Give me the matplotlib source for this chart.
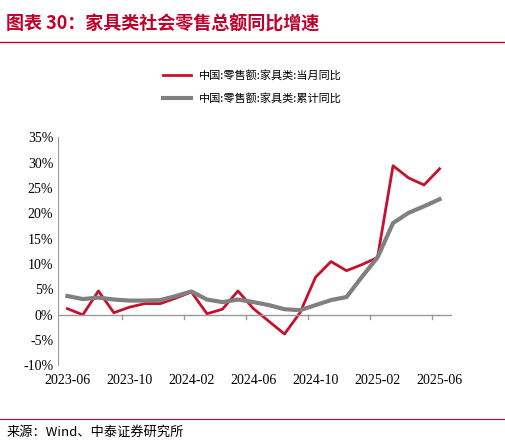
import matplotlib
matplotlib.use("Agg")
import matplotlib.pyplot as plt
from matplotlib.ticker import FuncFormatter

plt.rcParams['font.family'] = ['Noto Sans CJK SC', 'DejaVu Sans']

months = ["2023-06","2023-07","2023-08","2023-09","2023-10","2023-11","2023-12",
          "2024-01","2024-02","2024-03","2024-04","2024-05","2024-06","2024-07",
          "2024-08","2024-09","2024-10","2024-11","2024-12","2025-01","2025-02",
          "2025-03","2025-04","2025-05","2025-06"]
monthly = [1.2,0.0,4.7,0.4,1.5,2.2,2.2,3.3,4.5,0.2,1.1,4.7,1.2,-1.3,-3.8,0.4,
           7.4,10.5,8.7,9.9,11.3,29.4,27.0,25.6,28.8]
cumulative = [3.7,3.1,3.4,3.0,2.8,2.8,2.9,3.7,4.6,3.0,2.5,3.0,2.5,1.9,1.1,0.9,
              1.9,2.9,3.5,7.5,11.3,18.1,20.1,21.4,22.8]
labels = ["中国:零售额:家具类:当月同比", "中国:零售额:家具类:累计同比"]

fig = plt.figure(figsize=(5.05, 4.43), dpi=100)
fig.text(0.012, 0.945, "图表 30：家具类社会零售总额同比增速", color="#c0002a",
         fontsize=13, style="italic", fontweight="bold", va="center")
fig.add_artist(plt.Line2D([0.0, 1.0], [0.905, 0.905], color="#c0002a", lw=1))
fig.add_artist(plt.Line2D([0.0, 1.0], [0.055, 0.055], color="#c0002a", lw=0.8))
fig.text(0.012, 0.025, "来源：Wind、中泰证券研究所", fontsize=9.5, va="center")

ax = fig.add_axes([0.115, 0.175, 0.78, 0.515])
x = list(range(len(months)))
l1, = ax.plot(x, monthly, color="#c8102e", lw=2, label=labels[0])
l2, = ax.plot(x, cumulative, color="#808080", lw=3, label=labels[1])
ax.set_ylim(-10, 35)
ax.set_yticks(range(-10, 36, 5))
ax.yaxis.set_major_formatter(FuncFormatter(lambda v, p: f"{int(v)}%"))
ax.set_xlim(-0.6, 24.8)
ax.set_xticks(x[::4])
ax.set_xticklabels(months[::4])
for s in ["top", "right", "bottom"]:
    ax.spines[s].set_visible(False)
ax.spines["left"].set_color("#999999")
ax.axhline(0, color="#999999", lw=1)
ax.tick_params(axis="x", length=0, pad=6)
ax.tick_params(axis="y", length=0)
for lab in ax.get_xticklabels() + ax.get_yticklabels():
    lab.set_fontfamily("Liberation Serif")
    lab.set_fontsize(10)
for t in [3.5 + 4 * i for i in range(6)]:
    ax.plot([t, t], [0, -0.8], color="#999999", lw=1, clip_on=False)
fig.legend(handles=[l1, l2], loc="upper center", bbox_to_anchor=(0.5, 0.865),
           frameon=False, fontsize=8, handlelength=2.5, labelspacing=1.1)
fig.savefig("out.png", dpi=100)
